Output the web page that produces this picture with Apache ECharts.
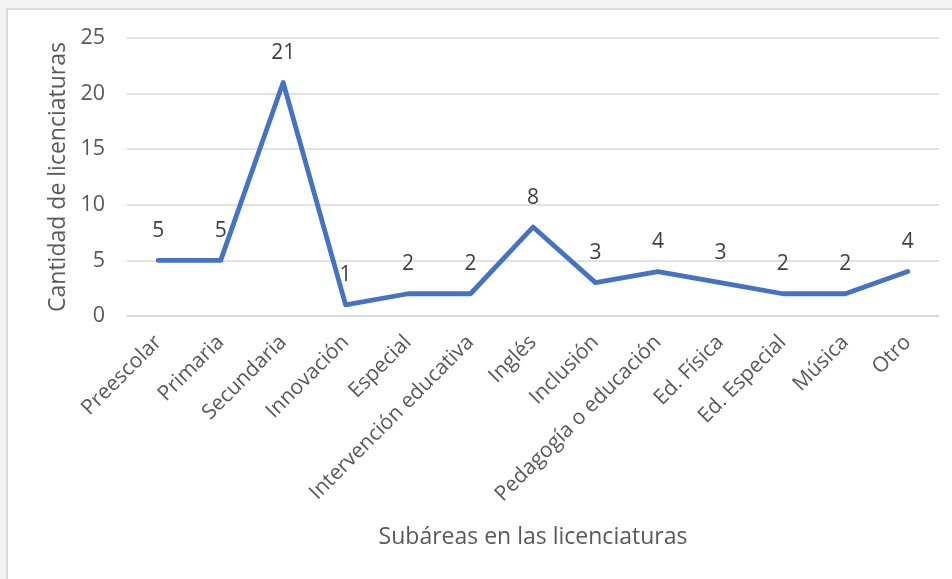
<!DOCTYPE html>
<html>
<head>
<meta charset="utf-8">
<script src="https://cdn.jsdelivr.net/npm/echarts@6/dist/echarts.min.js"></script>
<style>
  html, body { margin: 0; padding: 0; background: #f4f4f4; }
  .card {
    position: absolute; left: 6px; top: 8px; width: 960px; height: 600px;
    background: #fff; border-left: 2px solid #dcdcdc; border-top: 2px solid #dcdcdc;
  }
  #chart { position: absolute; left: 0; top: 0; width: 952px; height: 579px; }
</style>
</head>
<body>
<div class="card"></div>
<div id="chart"></div>
<script>
// subáreas y cantidades
const categories = ['Preescolar', 'Primaria', 'Secundaria', 'Innovación', 'Especial',
  'Intervención educativa', 'Inglés', 'Inclusión', 'Pedagogía o educación',
  'Ed. Física', 'Ed. Especial', 'Música', 'Otro']
const cantidades = [5, 5, 21, 1, 2, 2, 8, 3, 4, 3, 2, 2, 4]
const yTicks = [0, 5, 10, 15, 20, 25]

const FONT = 'Open Sans'
const chart = echarts.init(document.getElementById('chart'))

chart.setOption({
  backgroundColor: 'transparent',
  textStyle: { fontFamily: FONT },
  grid: { left: 127, right: 13, top: 38, bottom: 263 },
  xAxis: {
    type: 'category',
    data: categories,
    boundaryGap: true,
    name: 'Subáreas en las licenciaturas',
    nameLocation: 'middle',
    nameGap: 210,
    nameTextStyle: { fontFamily: FONT, fontSize: 23, color: '#595959' },
    axisLine: { show: true, lineStyle: { color: '#d9d9d9', width: 1.5 } },
    axisTick: { show: false },
    axisLabel: { rotate: 45, interval: 0, margin: 23, fontFamily: FONT, fontSize: 21, color: '#595959' }
  },
  yAxis: {
    type: 'value',
    min: yTicks[0],
    max: yTicks[yTicks.length - 1],
    interval: 5,
    name: 'Cantidad de licenciaturas',
    nameLocation: 'middle',
    nameGap: 56,
    nameTextStyle: { fontFamily: FONT, fontSize: 23, color: '#595959' },
    axisLine: { show: false },
    axisTick: { show: false },
    axisLabel: { margin: 22, fontFamily: FONT, fontSize: 21.5, color: '#595959' },
    splitLine: { lineStyle: { color: '#d9d9d9', width: 1.5 } }
  },
  series: [{
    type: 'line',
    data: cantidades,
    symbol: 'circle',
    symbolSize: 0,
    showSymbol: true,
    itemStyle: { color: '#4472c4' },
    lineStyle: { color: '#4472c4', width: 4.8, cap: 'round', join: 'round' },
    label: { show: true, position: 'top', distance: 19, fontFamily: FONT, fontSize: 21, color: '#404040' }
  }]
})
</script>
</body>
</html>
